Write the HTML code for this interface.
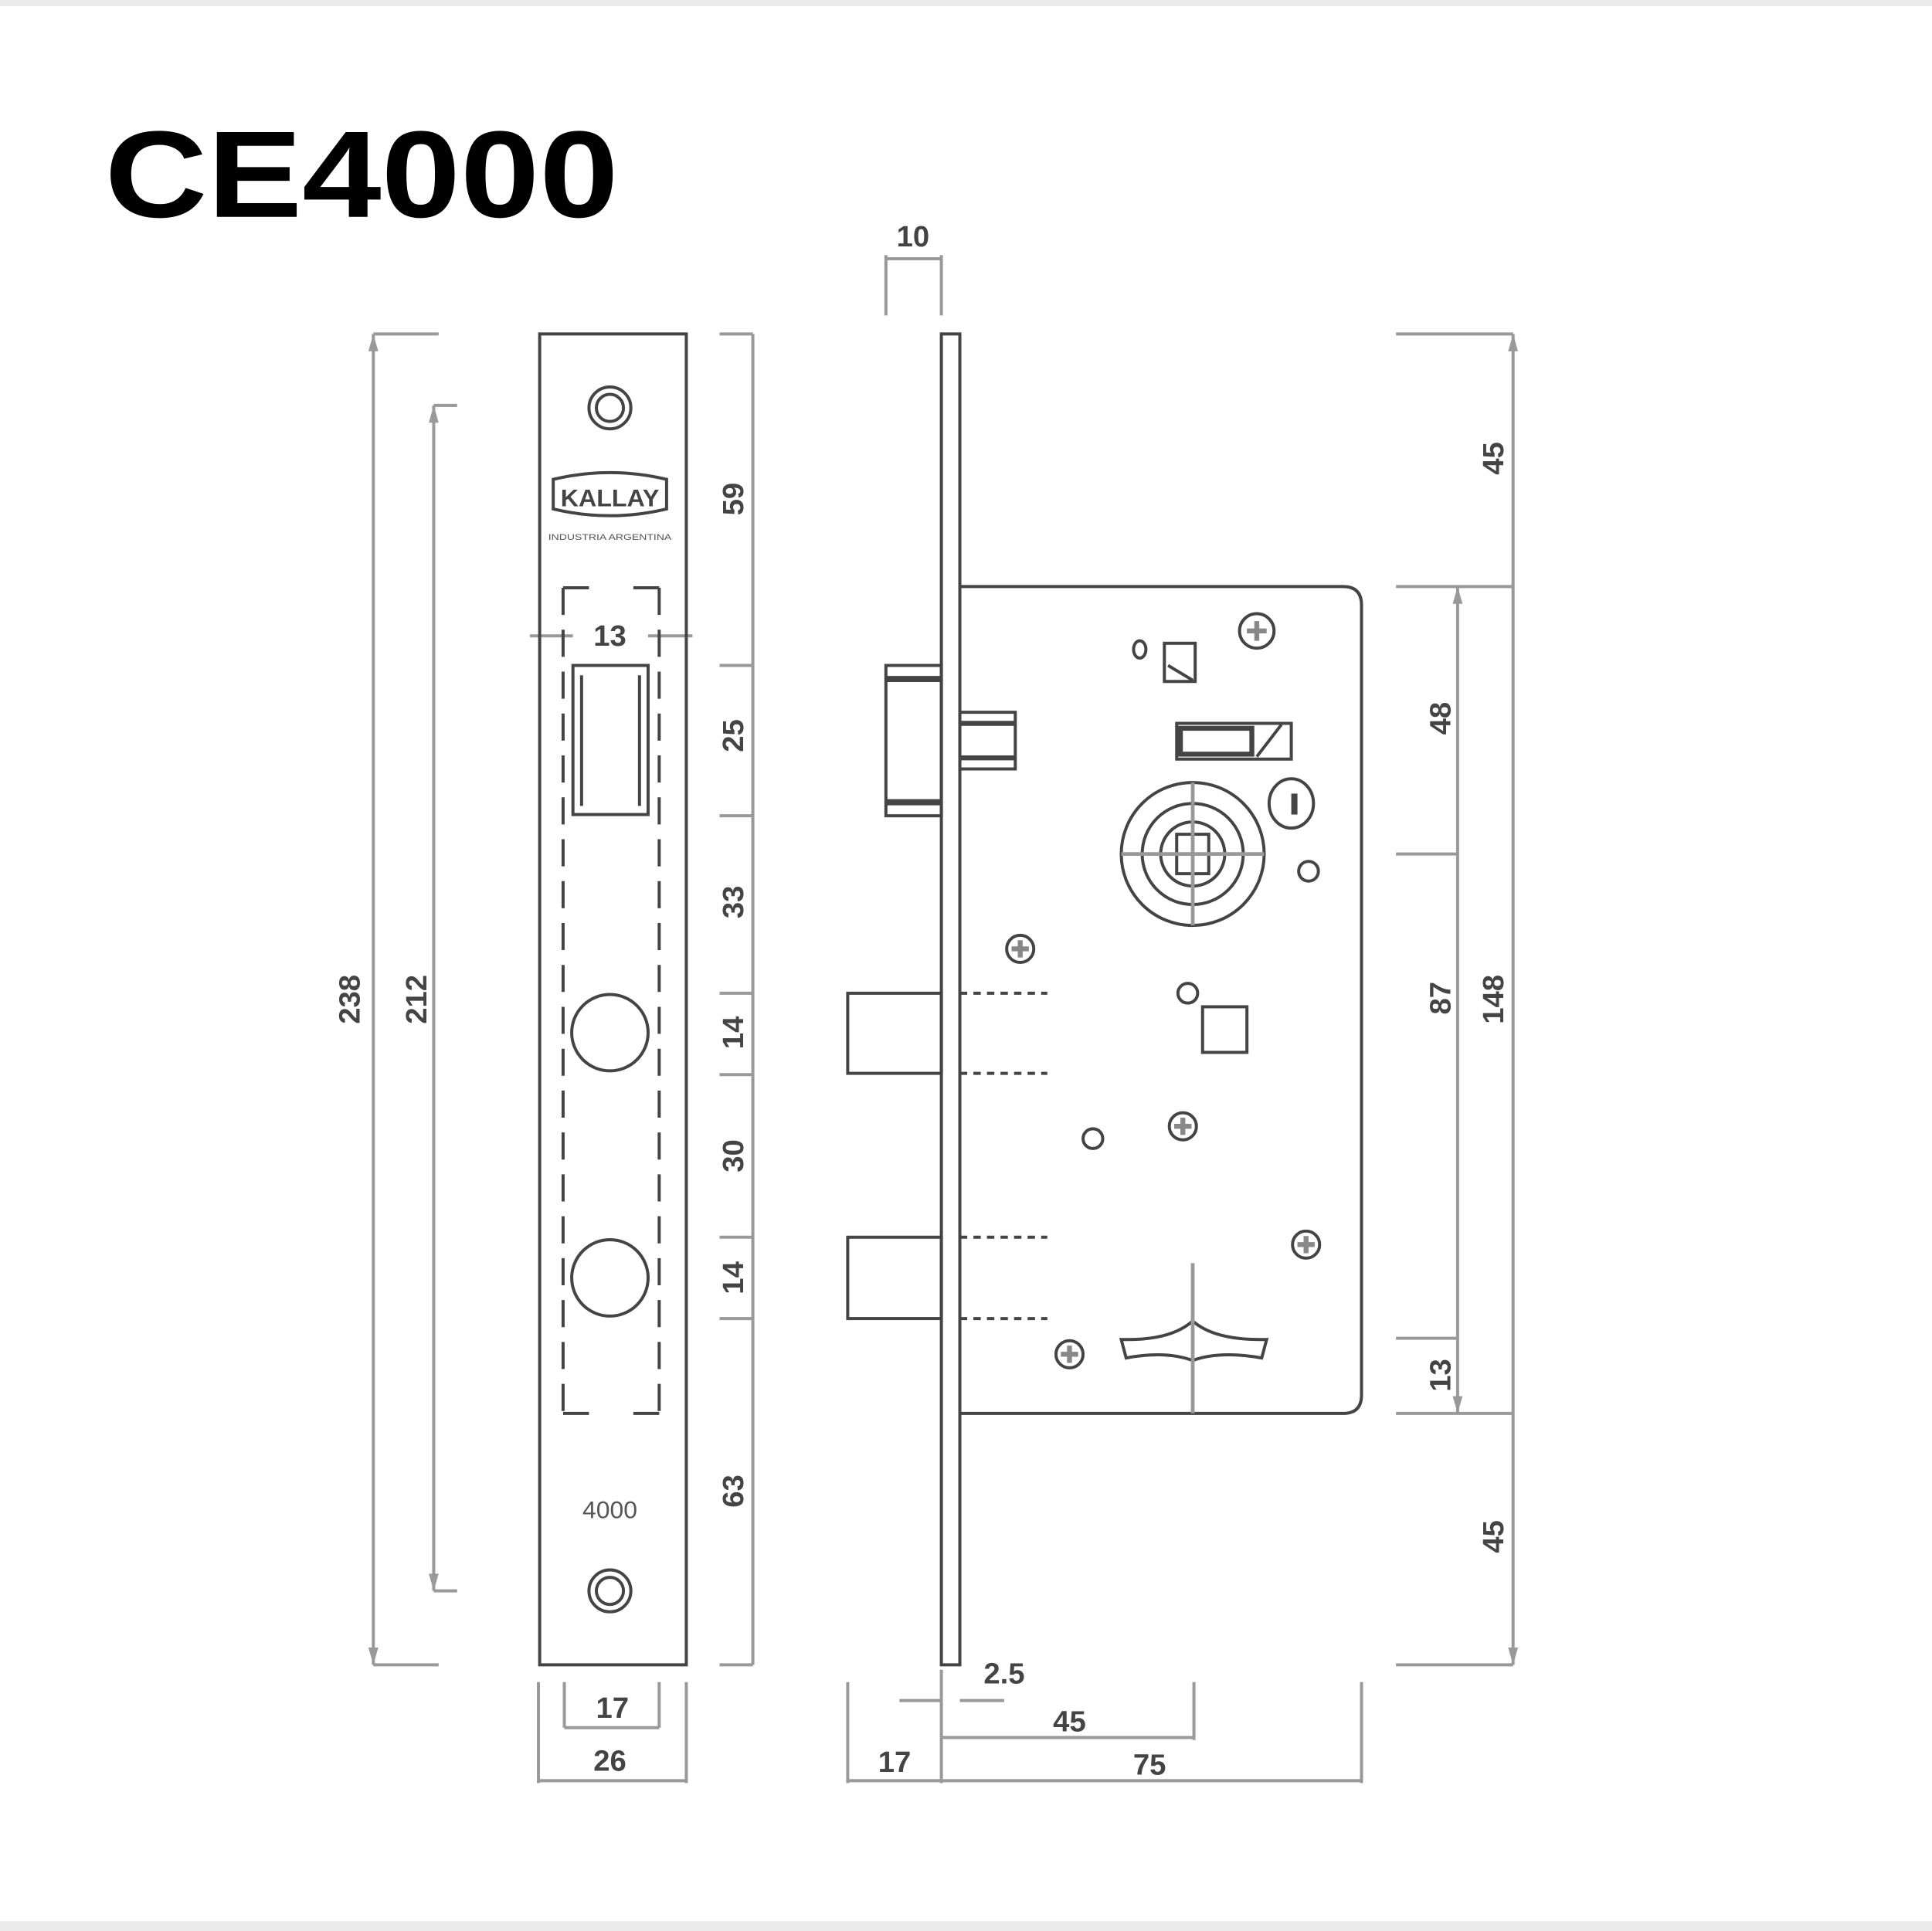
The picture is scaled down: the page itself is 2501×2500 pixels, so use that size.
<!DOCTYPE html>
<html><head><meta charset="utf-8"><style>
html,body{margin:0;padding:0;background:#fff;}
svg{display:block;}
text{font-family:"Liberation Sans",sans-serif;}
</style></head><body>
<svg width="2501" height="2500" viewBox="0 0 1568 1567" preserveAspectRatio="none" xmlns="http://www.w3.org/2000/svg">
<rect x="0" y="0" width="1568" height="1567" fill="#fff"/>
<rect x="0" y="0" width="1568" height="5" fill="#ececec"/>
<rect x="0" y="1559" width="1568" height="8" fill="#ececec"/>
<text x="85" y="176" font-size="100" font-weight="bold" textLength="417" lengthAdjust="spacingAndGlyphs" fill="#000">CE4000</text>

<g stroke="#999" stroke-width="2.5" fill="none">
<path d="M303 271V1351M303 271H356M303 1351H356"/>
<path d="M352 329V1291M352 329H371M352 1291H371"/>
<path d="M611 271V1351M584 271H611M584 540H611M584 662H611M584 806H611M584 872H611M584 1004H611M584 1070H611M584 1351H611"/>
<path d="M458 1365V1402M535 1365V1402M458 1402H535"/>
<path d="M437 1365V1447M557 1365V1447M437 1445H557"/>
<path d="M430 516H465M526 516H562"/>
<path d="M719 207V256M764 207V256M719 210H764"/>
<path d="M1228 271V1351M1133 271H1228M1133 476H1228M1133 1147H1228M1133 1351H1228"/>
<path d="M1183 476V1147M1133 693H1183M1133 1086H1183"/>
<path d="M764 1355V1447M688 1365V1447M969 1365V1412M1105 1365V1447"/>
<path d="M764 1410H969M688 1445H1105M730 1380H764M779 1380H815"/>
</g>
<g fill="#999">
<path d="M303 271l-4 14h8zM303 1351l-4-14h8z"/>
<path d="M352 329l-4 14h8zM352 1291l-4-14h8z"/>
<path d="M1228 271l-4 14h8zM1228 1351l-4-14h8z"/>
<path d="M1183 476l-4 14h8zM1183 1147l-4-14h8z"/>
</g>
<g font-size="24" font-weight="bold" fill="#444" text-anchor="middle">
<text transform="translate(292,811) rotate(-90)">238</text>
<text transform="translate(346,811) rotate(-90)">212</text>
<text transform="translate(603,405) rotate(-90)">59</text>
<text transform="translate(603,597) rotate(-90)">25</text>
<text transform="translate(603,732) rotate(-90)">33</text>
<text transform="translate(603,838) rotate(-90)">14</text>
<text transform="translate(603,938) rotate(-90)">30</text>
<text transform="translate(603,1037) rotate(-90)">14</text>
<text transform="translate(603,1210) rotate(-90)">63</text>
<text transform="translate(1220,372) rotate(-90)">45</text>
<text transform="translate(1220,811) rotate(-90)">148</text>
<text transform="translate(1220,1247) rotate(-90)">45</text>
<text transform="translate(1177,583) rotate(-90)">48</text>
<text transform="translate(1177,810) rotate(-90)">87</text>
<text transform="translate(1177,1116) rotate(-90)">13</text>
<text x="495" y="524">13</text>
<text x="497" y="1394">17</text>
<text x="495" y="1437">26</text>
<text x="741" y="200">10</text>
<text x="815" y="1366">2.5</text>
<text x="868" y="1405">45</text>
<text x="933" y="1440">75</text>
<text x="726" y="1438">17</text>
</g>

<g stroke="#444" stroke-width="2.5" fill="none">
<rect x="438" y="271" width="119" height="1080"/>
<circle cx="495" cy="331" r="17"/><circle cx="495" cy="331" r="11"/>
<circle cx="495" cy="1291" r="17"/><circle cx="495" cy="1291" r="11"/>
<path d="M449 389Q495 378 541 389V413Q495 424 449 413Z"/>
<rect x="465" y="540" width="61" height="121"/>
<path d="M472 548V654M519 548V654"/>
<circle cx="495" cy="838" r="31"/>
<circle cx="495" cy="1037" r="31"/>
<path d="M457 477V1147M535 477V1147M457 477H478M514 477H535M457 1147H478M514 1147H535" stroke-dasharray="22 12"/>
</g>
<text x="495" y="411" font-size="20" font-weight="bold" fill="#444" text-anchor="middle" textLength="80" lengthAdjust="spacingAndGlyphs">KALLAY</text>
<text x="495" y="438" font-size="7" fill="#555" text-anchor="middle" textLength="100" lengthAdjust="spacingAndGlyphs">INDUSTRIA ARGENTINA</text>
<text x="495" y="1232" font-size="20" fill="#555" text-anchor="middle">4000</text>

<g stroke="#444" stroke-width="2.5" fill="none">
<rect x="764" y="271" width="15" height="1080"/>
<path d="M779 476H1090Q1105 476 1105 491V1132Q1105 1147 1090 1147H779"/>
<rect x="719" y="540" width="45" height="122"/>
<path d="M719 551H764M719 651H764" stroke-width="5"/>
<rect x="779" y="578" width="45" height="46"/>
<path d="M779 587H824M779 615H824" stroke-width="4"/>
<rect x="688" y="806" width="76" height="65"/>
<rect x="688" y="1004" width="76" height="66"/>
<path d="M779 806H850M779 871H850M779 1004H850M779 1070H850" stroke-dasharray="6 5"/>
<ellipse cx="925" cy="527" rx="5" ry="7"/>
<rect x="945" y="522" width="25" height="31"/>
<path d="M948 540L968 552"/>
<rect x="955" y="587" width="93" height="29"/>
<path d="M1020 614L1040 588"/>
<circle cx="968" cy="693" r="58"/><circle cx="968" cy="693" r="41"/><circle cx="968" cy="693" r="26"/>
<rect x="955" y="677" width="26" height="32"/>
<ellipse cx="1048" cy="652" rx="18" ry="20"/>
<circle cx="1062" cy="707" r="8"/>
<circle cx="964" cy="806" r="8"/>
<rect x="976" y="817" width="36" height="37"/>
<circle cx="887" cy="924" r="8"/>
<path d="M910 1087Q950 1088 968 1072Q986 1088 1028 1087L1024 1102Q990 1096 968 1104Q946 1096 914 1102Z"/>
</g>
<rect x="958" y="591" width="58" height="21" fill="none" stroke="#444" stroke-width="4"/>
<rect x="1048" y="644" width="5" height="17" fill="#444"/>
<g stroke="#999" stroke-width="3">
<path d="M910 693H1026M968 635V751M968 1025V1147"/>
</g>
<g stroke="#444" stroke-width="2.5" fill="none">
<circle cx="1020" cy="512" r="14"/><circle cx="828" cy="770" r="11"/><circle cx="960" cy="914" r="11"/><circle cx="1060" cy="1010" r="11"/><circle cx="868" cy="1099" r="11"/>
</g>
<g stroke="#888" stroke-width="4">
<path d="M1012 512H1028M1020 504V520M821 770H835M828 763V777M953 914H967M960 907V921M1053 1010H1067M1060 1003V1017M861 1099H875M868 1092V1106"/>
</g>
</svg>
</body></html>
